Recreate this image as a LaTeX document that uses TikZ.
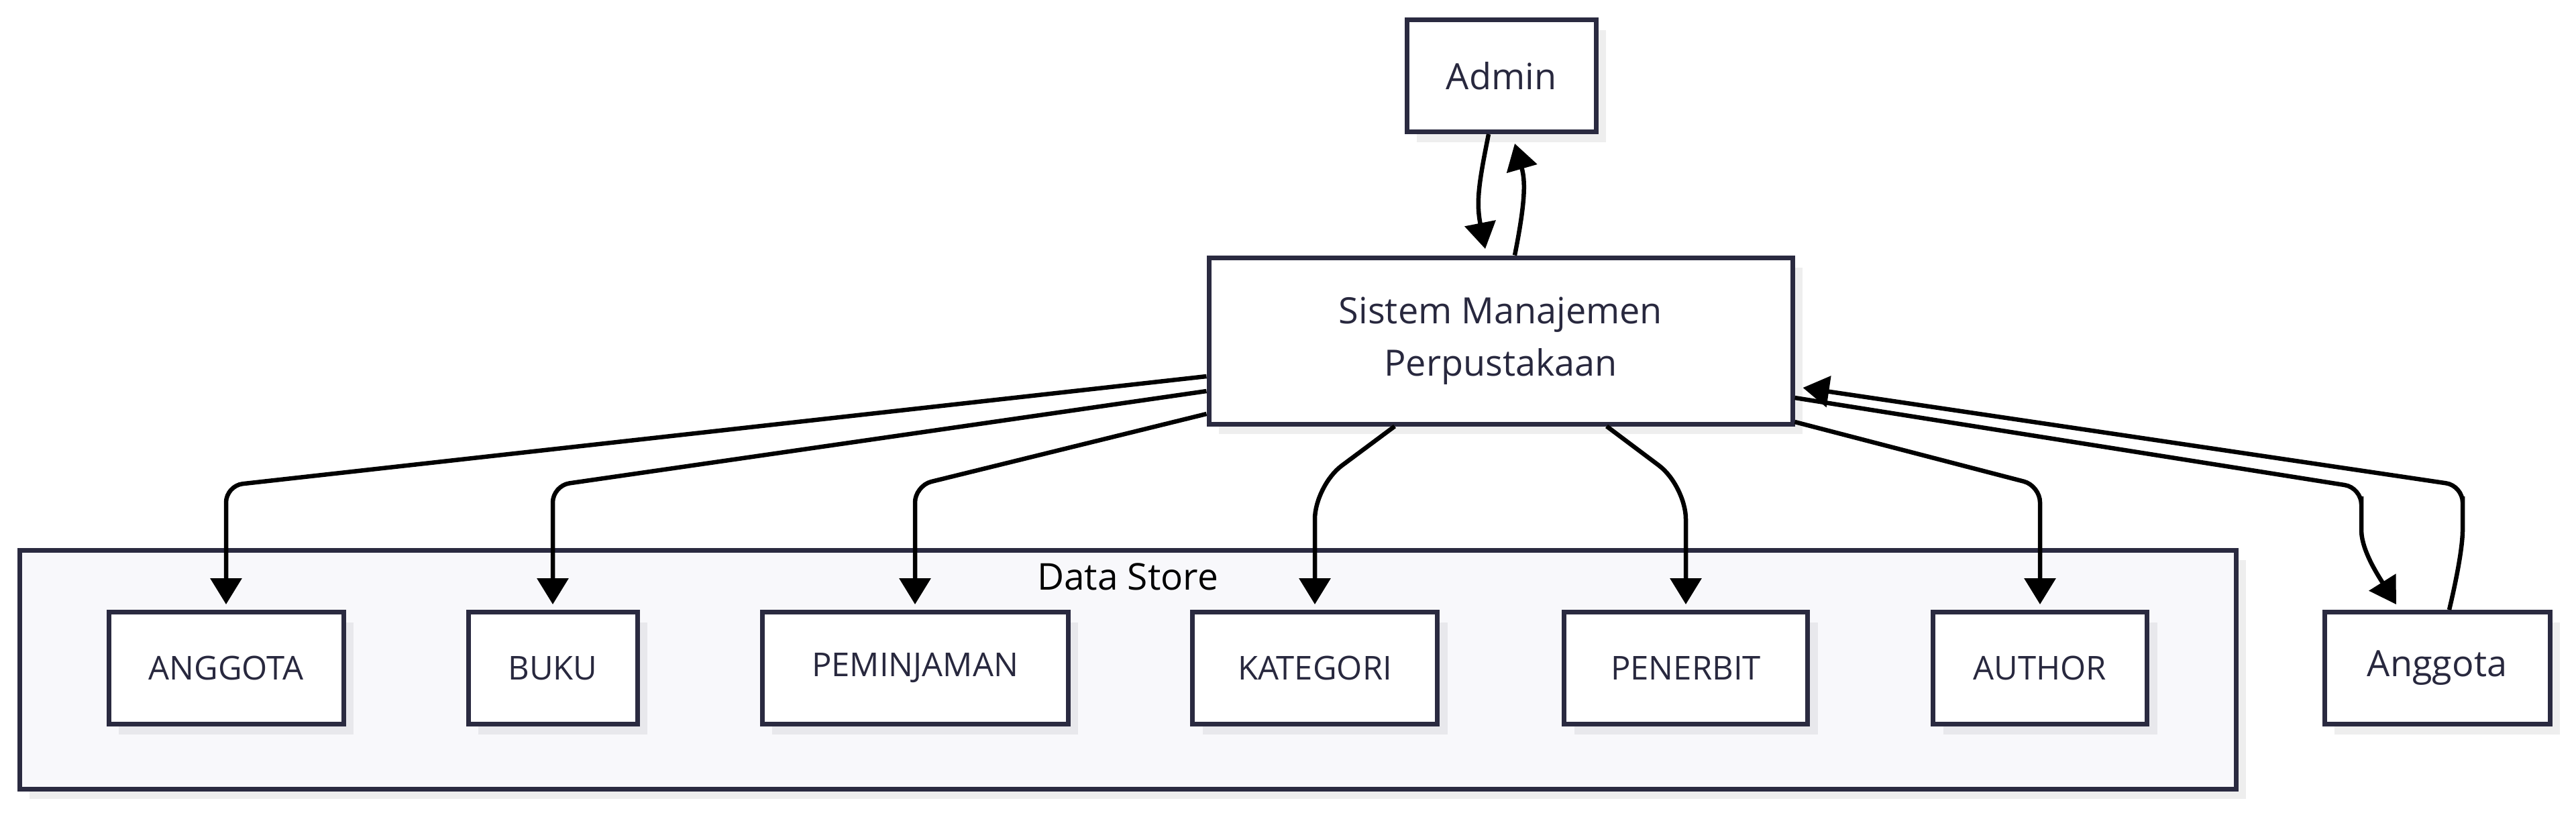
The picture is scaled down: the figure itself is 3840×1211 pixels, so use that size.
\documentclass[tikz,border=0pt]{standalone}
\usepackage{fontspec}
\setmainfont{Open Sans}
\usetikzlibrary{arrows.meta,calc,shadows}
\definecolor{nodeborder}{HTML}{2A2A40}
\definecolor{textcol}{HTML}{28283E}
\definecolor{clusterfill}{HTML}{F8F8FB}
\definecolor{shadowgray}{HTML}{EEEEEE}
\definecolor{shadowin}{HTML}{E8E8EC}
\begin{document}
\begin{tikzpicture}[x=1pt,y=-1pt,
  box/.style={draw=nodeborder, line width=7pt, fill=white, text=textcol,
    font=\fontsize{54}{78}\selectfont, inner sep=0pt, align=center,
    minimum height=167pt},
  capsbox/.style={box, font=\fontsize{49}{78}\selectfont},
  shout/.style={general shadow={fill=shadowgray, shadow xshift=15pt, shadow yshift=-15pt}},
  shin/.style={general shadow={fill=shadowin, shadow xshift=15pt, shadow yshift=-15pt}},
  conn/.style={line width=6.5pt, black, -{Triangle[length=39pt,width=46pt]}, rounded corners=25pt},
]
\useasboundingbox (0,0) rectangle (3840,1211);

% cluster
\node[draw=nodeborder, line width=7pt, fill=clusterfill, shout, inner sep=0pt,
  minimum width=3304pt, minimum height=356pt] (ds) at (1681,998) {};
\node[text=black, font=\fontsize{55}{60}\selectfont, anchor=center] (dslabel) at (1681,860) {Data Store};

% nodes
\node[box, shout, minimum width=282pt] (admin) at (2238,113) {Admin};
\node[box, shout, minimum width=870pt, minimum height=248pt] (sys) at (2237,508) {Sistem Manajemen\\Perpustakaan};
\node[capsbox, shin, minimum width=350pt] (dsang) at (337,996) {ANGGOTA};
\node[capsbox, shin, minimum width=252pt] (buku) at (824,996) {BUKU};
\node[capsbox, shin, minimum width=456pt] (pinjam) at (1364,996) {PEMINJAMAN};
\node[capsbox, shin, minimum width=365pt] (kat) at (1960,996) {KATEGORI};
\node[capsbox, shin, minimum width=363pt] (pen) at (2513,996) {PENERBIT};
\node[capsbox, shin, minimum width=319pt] (auth) at (3041,996) {AUTHOR};
\node[box, shout, minimum width=336pt] (ang) at (3633,996) {Anggota};

\coordinate (rowY) at (0,724);

% admin <-> sistem
\draw[conn] ([xshift=-19pt]admin.south) .. controls (2205,270) and (2200,300) .. (2214,371);
\draw[conn] ([xshift=21pt]sys.north) .. controls (2274,300) and (2274,270) .. ([xshift=20pt,yshift=-14pt]admin.south);

% sistem -> data store
\draw[conn, shorten >=8pt] ($(sys.west)+(0,53)$) -- (dsang.north |- rowY) -- (dsang.north);
\draw[conn, shorten >=8pt] ($(sys.west)+(0,75)$) -- (buku.north |- rowY) -- (buku.north);
\draw[conn, shorten >=8pt] ($(sys.west)+(0,109)$) -- (pinjam.north |- rowY) -- (pinjam.north);
\draw[conn, shorten >=8pt, rounded corners=50pt] ($(sys.south)+(-158,0)$) -- (kat.north |- rowY) -- (kat.north);
\draw[conn, shorten >=8pt, rounded corners=50pt] ($(sys.south)+(158,0)$) -- (pen.north |- rowY) -- (pen.north);
\draw[conn, shorten >=8pt] ($(sys.east)+(0,121)$) -- (auth.north |- rowY) -- (auth.north);

% sistem <-> anggota
\draw[conn] ($(sys.east)+(0,85)$) -- (3520,727) -- (3520,765) .. controls (3520,820) and (3545,858) .. (3572,901);
\draw[conn] ([xshift=18pt]ang.north) .. controls (3665,850) and (3671,810) .. (3671,765) -- (3671,724) -- ($(sys.east)+(12,70)$);
\end{tikzpicture}
\end{document}
